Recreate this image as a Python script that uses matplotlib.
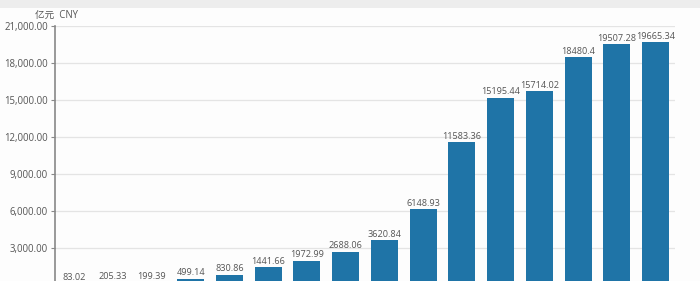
import matplotlib
matplotlib.use("Agg")
import matplotlib.pyplot as plt
from matplotlib.patches import Rectangle
from matplotlib.ticker import FuncFormatter

plt.rcParams['font.family'] = ['Open Sans', 'Noto Sans CJK SC', 'DejaVu Sans']

# values per year (labels on top of the bars)
values = [83.02, 205.33, 199.39, 499.14, 830.86, 1441.66, 1972.99, 2688.06,
          3620.84, 6148.93, 11583.36, 15195.44, 15714.02, 18480.4, 19507.28, 19665.34]
value_labels = ["83.02", "205.33", "199.39", "499.14", "830.86", "1441.66", "1972.99",
                "2688.06", "3620.84", "6148.93", "11583.36", "15195.44", "15714.02",
                "18480.4", "19507.28", "19665.34"]
y_ticks = [0, 3000, 6000, 9000, 12000, 15000, 18000, 21000]
unit_label = "亿元  CNY"

bar_color = "#1f74a7"
text_color = "#555555"

fig = plt.figure(figsize=(7, 2.81), dpi=100)
fig.patch.set_facecolor("#fdfdfd")
# grey strip at the very top of the screenshot
fig.patches.append(Rectangle((0, 0.972), 1, 0.028, transform=fig.transFigure,
                             facecolor="#ededed", edgecolor="none", zorder=0))

ax = fig.add_axes([55 / 700, -4 / 281, 620 / 700, 259 / 281])
ax.set_facecolor("#fdfdfd")

x = list(range(len(values)))
ax.bar(x, values, width=0.7, color=bar_color, zorder=3)

for xi, v, lab in zip(x, values, value_labels):
    ax.text(xi, v + 120, lab, ha="center", va="bottom", fontsize=6.6, color=text_color)

ax.set_xlim(-0.5, len(values) - 0.5)
ax.set_ylim(0, 21000)
ax.set_yticks(y_ticks)
ax.yaxis.set_major_formatter(FuncFormatter(lambda v, p: f"{v:,.2f}"))
ax.tick_params(axis="y", length=3, width=0.8, color="#888888", labelsize=6.9,
               labelcolor=text_color, pad=2)
ax.set_xticks([])
ax.grid(axis="y", color="#e4e4e4", linewidth=0.9, zorder=0)

for s in ["top", "right", "bottom"]:
    ax.spines[s].set_visible(False)
ax.spines["left"].set_color("#888888")
ax.spines["left"].set_linewidth(1.2)

fig.text(35 / 700, 1 - 15 / 281, unit_label, fontsize=6.9, color=text_color,
         ha="left", va="center")

fig.savefig("out.png", dpi=100, facecolor=fig.get_facecolor())
